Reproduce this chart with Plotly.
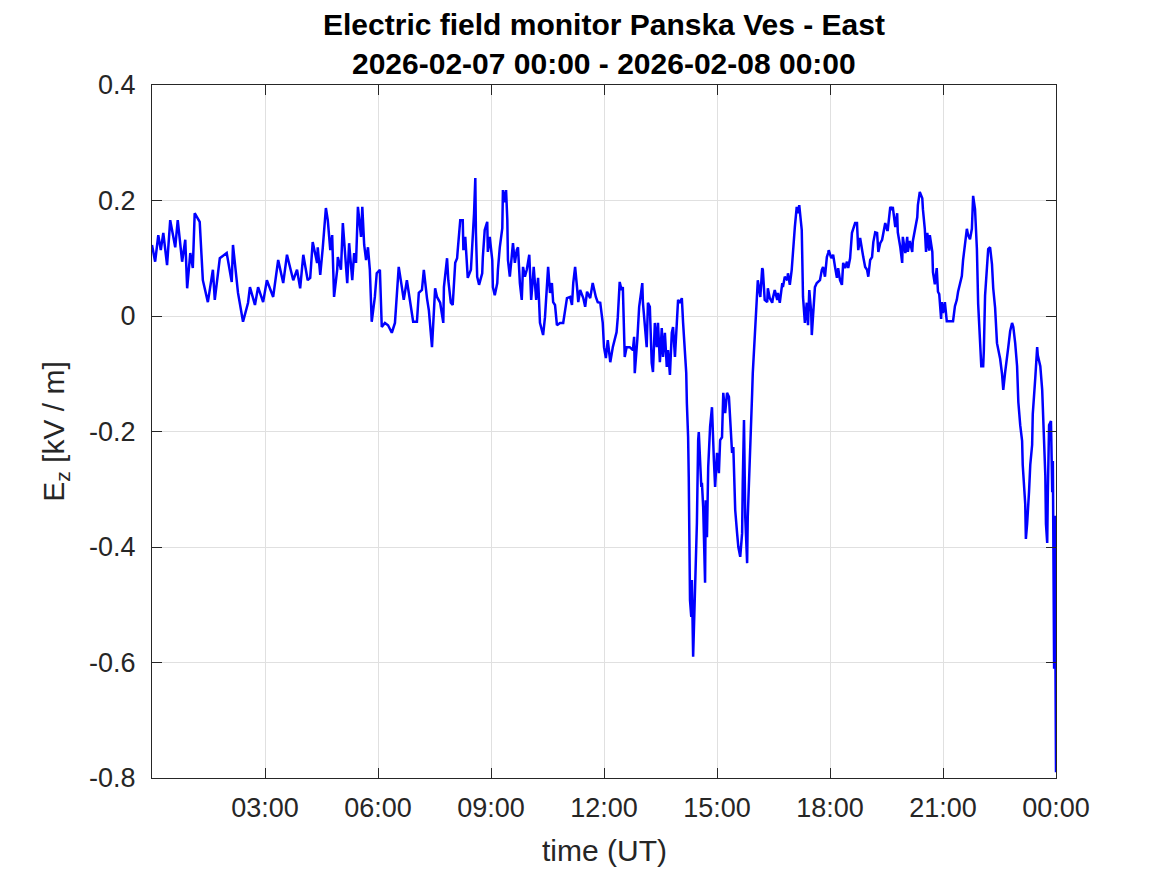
import plotly.graph_objects as go
import pandas as pd

# (minutes after 2026-02-07 00:00 UT, Ez in kV/m)
night = [
    (0, 0.123), (5, 0.094), (10, 0.140), (14, 0.114), (18, 0.144), (24, 0.088), (29, 0.166),
    (37, 0.119), (41, 0.166), (48, 0.094), (53, 0.132), (56, 0.048), (61, 0.109), (65, 0.083),
    (68, 0.178), (76, 0.163), (81, 0.062), (89, 0.024), (97, 0.080), (100, 0.028), (108, 0.100),
    (119, 0.109), (127, 0.059), (129, 0.123), (137, 0.040), (145, -0.010), (153, 0.023),
    (156, 0.050), (164, 0.019), (169, 0.050), (177, 0.024), (183, 0.062), (193, 0.033),
    (201, 0.097), (209, 0.057), (215, 0.106), (225, 0.062), (231, 0.080), (236, 0.048),
    (241, 0.106), (248, 0.062), (252, 0.066), (256, 0.128), (263, 0.092), (264, 0.119),
    (268, 0.071), (272, 0.118), (277, 0.187), (280, 0.166), (284, 0.114), (287, 0.140),
    (290, 0.033), (295, 0.080), (296, 0.102), (301, 0.080), (304, 0.161), (311, 0.057),
    (314, 0.126), (319, 0.062), (322, 0.109), (325, 0.092), (328, 0.189), (333, 0.137),
    (335, 0.189), (338, 0.123), (341, 0.097), (344, 0.119), (347, 0.080), (350, -0.010),
    (355, 0.033), (358, 0.074), (363, 0.080), (366, -0.019), (371, -0.012), (376, -0.016),
    (382, -0.029), (387, -0.012), (390, 0.045), (393, 0.085), (398, 0.050), (401, 0.028),
    (406, 0.062), (411, 0.028), (416, -0.010), (422, -0.010), (425, 0.040), (430, 0.045),
    (433, 0.080), (438, 0.031), (441, 0.010), (446, -0.054), (448, -0.012), (451, 0.048),
    (454, 0.033), (459, 0.023), (464, -0.012), (465, 0.050), (470, 0.100), (472, 0.062),
    (476, 0.023), (479, 0.019),
]

morning = [
    (483, 0.092), (486, 0.100), (487, 0.114), (491, 0.166), (495, 0.166), (496, 0.114),
    (499, 0.137), (502, 0.080), (503, 0.066), (508, 0.080), (511, 0.132), (513, 0.178),
    (515, 0.239), (516, 0.144), (518, 0.068), (521, 0.054), (526, 0.074), (527, 0.102),
    (530, 0.149), (534, 0.163), (535, 0.111), (538, 0.137), (542, 0.097), (543, 0.050),
    (546, 0.036), (550, 0.057), (551, 0.080), (554, 0.119), (558, 0.152), (559, 0.218),
    (561, 0.197), (564, 0.218), (566, 0.166), (567, 0.097), (570, 0.068), (573, 0.109),
    (575, 0.126), (578, 0.092), (581, 0.114), (583, 0.119), (586, 0.057), (589, 0.028),
    (591, 0.085), (594, 0.068), (597, 0.080), (601, 0.106), (604, 0.028), (607, 0.068),
    (608, 0.085), (612, 0.028), (615, 0.066), (618, -0.012), (623, -0.033), (626, -0.002),
    (629, 0.062), (631, 0.085), (634, 0.040), (637, 0.057), (639, 0.024), (642, 0.019),
    (645, -0.016), (650, -0.012), (655, -0.012), (658, 0.014), (661, 0.031), (666, 0.033),
    (669, 0.019), (671, 0.057), (674, 0.085), (677, 0.050), (679, 0.024), (682, 0.045),
    (687, 0.031), (690, 0.016), (693, 0.042), (698, 0.031), (702, 0.057), (707, 0.033),
    (710, 0.024),
]

afternoon = [
    (714, 0.023), (718, -0.012), (720, -0.054), (723, -0.073), (726, -0.042), (730, -0.080),
    (734, -0.054), (737, -0.038), (740, -0.028), (742, -0.002), (745, 0.059), (748, 0.045),
    (750, 0.050), (753, -0.071), (756, -0.054), (761, -0.054), (766, -0.059), (768, -0.036),
    (769, -0.099), (773, -0.042), (776, 0.016), (779, 0.040), (781, 0.057), (782, 0.023),
    (785, -0.024), (788, -0.054), (790, 0.023), (793, 0.016), (796, -0.081), (798, -0.097),
    (801, -0.012), (804, -0.054), (806, -0.012), (809, -0.080), (812, -0.021), (814, -0.071),
    (817, -0.029), (820, -0.088), (822, -0.059), (825, -0.102), (828, -0.029), (830, -0.019),
    (833, -0.071), (836, -0.019), (838, 0.028), (841, 0.023), (844, 0.031), (846, -0.012),
    (849, -0.059), (851, -0.099), (852, -0.151), (854, -0.210), (855, -0.279), (856, -0.388),
    (857, -0.492), (859, -0.521), (860, -0.457), (862, -0.590), (865, -0.475), (867, -0.423),
    (868, -0.358), (870, -0.215), (871, -0.201), (875, -0.296), (876, -0.289), (878, -0.331),
    (881, -0.462), (882, -0.319), (884, -0.383), (886, -0.262), (889, -0.192), (892, -0.158),
    (894, -0.237), (895, -0.249), (897, -0.296), (900, -0.237), (903, -0.272), (905, -0.215),
    (908, -0.210), (910, -0.133), (913, -0.168), (916, -0.133), (919, -0.140), (922, -0.192),
    (924, -0.237), (926, -0.227), (929, -0.336), (932, -0.376), (934, -0.400), (937, -0.417),
    (940, -0.376), (941, -0.289), (943, -0.180), (945, -0.348), (948, -0.428), (949, -0.348),
    (951, -0.289), (954, -0.227), (956, -0.133), (957, -0.099), (961, -0.024), (964, 0.028),
    (965, 0.062),
]

evening = [
    (969, 0.033), (972, 0.083), (973, 0.080), (976, 0.028), (980, 0.024), (981, 0.048),
    (984, 0.031), (988, 0.023), (989, 0.031), (992, 0.045), (996, 0.028), (997, 0.040),
    (1000, 0.023), (1004, 0.057), (1005, 0.050), (1008, 0.068), (1012, 0.062), (1013, 0.074),
    (1016, 0.054), (1019, 0.080), (1021, 0.114), (1024, 0.154), (1027, 0.189), (1029, 0.178),
    (1031, 0.192), (1034, 0.158), (1035, 0.149), (1037, 0.033), (1040, -0.012), (1043, 0.023),
    (1045, -0.016), (1047, 0.045), (1050, 0.007), (1051, -0.033), (1053, 0.005), (1056, 0.050),
    (1059, 0.057), (1064, 0.062), (1067, 0.080), (1069, 0.085), (1072, 0.068), (1075, 0.102),
    (1077, 0.109), (1078, 0.114), (1082, 0.100), (1085, 0.106), (1088, 0.085), (1091, 0.066),
    (1093, 0.083), (1096, 0.062), (1099, 0.054), (1101, 0.092), (1104, 0.083), (1107, 0.094),
    (1109, 0.083), (1112, 0.100), (1115, 0.144), (1117, 0.152), (1120, 0.161), (1123, 0.161),
    (1125, 0.114), (1128, 0.135), (1131, 0.111), (1133, 0.102), (1136, 0.085), (1139, 0.080),
    (1141, 0.068), (1144, 0.097), (1147, 0.102), (1149, 0.128), (1152, 0.145), (1155, 0.144),
    (1157, 0.111), (1160, 0.126), (1163, 0.132), (1164, 0.137), (1168, 0.161), (1171, 0.149),
    (1172, 0.149), (1176, 0.189), (1179, 0.184), (1180, 0.189), (1184, 0.154), (1187, 0.178),
    (1188, 0.145), (1192, 0.119), (1195, 0.092), (1196, 0.137), (1200, 0.109), (1203, 0.137),
    (1204, 0.111),
]

late = [
    (1207, 0.130), (1211, 0.111), (1212, 0.130), (1215, 0.147), (1219, 0.171), (1220, 0.192),
    (1223, 0.215), (1227, 0.204), (1228, 0.185), (1231, 0.151), (1233, 0.111), (1235, 0.144),
    (1238, 0.113), (1239, 0.140), (1243, 0.111), (1244, 0.076), (1247, 0.055), (1250, 0.083),
    (1252, 0.042), (1254, 0.038), (1257, -0.005), (1258, 0.024), (1260, 0.005), (1263, 0.024),
    (1266, -0.009), (1271, -0.009), (1276, -0.009), (1279, 0.017), (1282, 0.028), (1284, 0.042),
    (1287, 0.055), (1290, 0.069), (1292, 0.097), (1295, 0.123), (1298, 0.151), (1300, 0.140),
    (1303, 0.133), (1306, 0.151), (1308, 0.208), (1311, 0.185), (1314, 0.116), (1316, 0.021),
    (1319, -0.040), (1321, -0.087), (1324, -0.087), (1325, -0.061), (1327, 0.035), (1330, 0.097),
    (1332, 0.116), (1335, 0.119), (1338, 0.090), (1340, 0.048), (1343, 0.014), (1346, -0.047),
    (1348, -0.057), (1351, -0.074), (1354, -0.100), (1356, -0.128), (1359, -0.097),
    (1362, -0.074), (1364, -0.054), (1367, -0.026), (1370, -0.012), (1372, -0.019),
    (1375, -0.047), (1378, -0.087), (1380, -0.149), (1383, -0.189), (1386, -0.216),
    (1387, -0.258), (1391, -0.326), (1392, -0.386), (1394, -0.360), (1397, -0.305),
    (1399, -0.258), (1402, -0.223), (1403, -0.170), (1407, -0.107), (1410, -0.054),
    (1411, -0.068), (1415, -0.087), (1418, -0.128), (1419, -0.156), (1423, -0.277),
    (1424, -0.360), (1426, -0.393), (1427, -0.305), (1429, -0.189), (1432, -0.182),
    (1434, -0.305), (1435, -0.251), (1436, -0.435), (1437, -0.611), (1438, -0.346),
    (1439, -0.755), (1440, -0.790),
]

tick_hours = [3, 6, 9, 12, 15, 18, 21, 24]
tick_labels = ["03:00", "06:00", "09:00", "12:00", "15:00", "18:00", "21:00", "00:00"]
y_ticks = [-0.8, -0.6, -0.4, -0.2, 0, 0.2, 0.4]
y_labels = ["-0.8", "-0.6", "-0.4", "-0.2", "0", "0.2", "0.4"]

start = pd.Timestamp("2026-02-07 00:00")
data = pd.DataFrame(night + morning + afternoon + evening + late, columns=["minute", "ez"])
data["time"] = start + pd.to_timedelta(data["minute"], unit="min")

FONT = "Liberation Sans, Arial, sans-serif"
AXIS_COLOR = "#262626"

fig = go.Figure()
fig.add_trace(go.Scatter(
    x=data["time"], y=data["ez"],
    mode="lines",
    line=dict(color="#0000ff", width=2.5),
    showlegend=False,
))

fig.update_layout(
    width=1167, height=875,
    plot_bgcolor="white", paper_bgcolor="white",
    margin=dict(l=152, r=111, t=85, b=97),
    font=dict(family=FONT, size=27, color=AXIS_COLOR),
)

fig.update_xaxes(
    range=[start, start + pd.Timedelta(hours=24)],
    tickvals=[start + pd.Timedelta(hours=h) for h in tick_hours],
    ticktext=tick_labels,
    ticks="inside", ticklen=10, tickcolor=AXIS_COLOR,
    showline=True, linecolor=AXIS_COLOR, linewidth=1, mirror="ticks",
    showgrid=True, gridcolor="#e0e0e0", gridwidth=1,
    zeroline=False,
    ticklabelstandoff=6,
)
fig.update_yaxes(
    range=[-0.8, 0.4],
    tickvals=y_ticks, ticktext=y_labels,
    ticks="inside", ticklen=10, tickcolor=AXIS_COLOR,
    showline=True, linecolor=AXIS_COLOR, linewidth=1, mirror="ticks",
    showgrid=True, gridcolor="#e0e0e0", gridwidth=1,
    zeroline=False,
    ticklabelstandoff=10,
)

# title lines and axis labels
fig.add_annotation(text="<b>Electric field monitor Panska Ves - East</b>",
                   xref="paper", yref="paper", x=0.5, y=1.0866,
                   showarrow=False, yanchor="middle",
                   font=dict(family=FONT, size=30, color="black"))
fig.add_annotation(text="<b>2026-02-07 00:00 - 2026-02-08 00:00</b>",
                   xref="paper", yref="paper", x=0.5, y=1.0317,
                   showarrow=False, yanchor="middle",
                   font=dict(family=FONT, size=30, color="black"))
fig.add_annotation(text="time (UT)",
                   xref="paper", yref="paper", x=0.5, y=-0.104,
                   showarrow=False, yanchor="middle",
                   font=dict(family=FONT, size=30, color=AXIS_COLOR))
fig.add_annotation(text="E<sub>z</sub> [kV / m]",
                   xref="paper", yref="paper", x=-0.107, y=0.5,
                   showarrow=False, xanchor="center", yanchor="middle",
                   textangle=-90,
                   font=dict(family=FONT, size=30, color=AXIS_COLOR))

fig.write_html("out.html", config={"displayModeBar": False},
               post_script="document.body.style.margin = '0';")
